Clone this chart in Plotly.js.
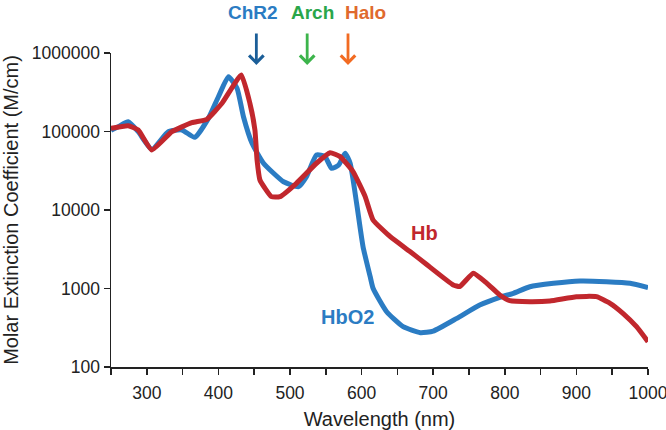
<!DOCTYPE html>
<html>
<head>
<meta charset="utf-8">
<script src="https://cdn.plot.ly/plotly-3.0.1.min.js"></script>
<style>html,body{margin:0;padding:0;background:#fff;}#chart{width:666px;height:430px;}</style>
</head>
<body>
<div id="chart"></div>
<script>
// HbO2 (oxyhemoglobin) molar extinction coefficient
const hbo2Wavelength = [250,260,274,288,307,330,349,367,386,400,414,426,435,447,463,491,512,523,537,549,558,568,577,584,593,602,612,616,635,658,682,700,733,765,793,812,835,868,905,942,975,1000];
const hbo2Values     = [104000,115000,133000,99400,59300,99400,104500,84400,147000,277000,499000,355000,154000,70700,39400,22900,19800,26500,50200,47800,34000,37400,52800,39400,12200,3410,1414,1006,506,326,274,287,417,616,773,869,1054,1164,1246,1221,1164,1024];

// Hb (deoxyhemoglobin) molar extinction coefficient
const hbWavelength = [250,274,288,307,335,363,384,405,432,444,451,454,458,474,486,509,537,556,570,588,605,616,640,668,690,728,737,756,775,793,807,835,863,900,928,947,965,984,1000];
const hbValues     = [110000,118600,104500,58100,99400,129500,143000,228600,524800,228600,104500,43300,24100,14800,14800,21900,39400,53700,47800,30800,14800,7460,4570,2940,2050,1109,1060,1562,1164,827,699,679,693,787,787,648,483,326,210];

// axis ticks
const xTickVals = [250,300,350,400,450,500,550,600,650,700,750,800,850,900,950,1000];
const xTickText = ['','300','','400','','500','','600','','700','','800','','900','','1000'];
const yTickVals = [100,1000,10000,100000,1000000];
const yTickText = ['100','1000','10000','100000','1000000'];

// opsin labels and arrow wavelengths
const opsinNames = ['ChR2','Arch','Halo'];
const opsinLabelX = [449,531,605];
const opsinArrowX = [453,524,581];

const FONT = 'Liberation Sans, Arial, Helvetica, sans-serif';
const BLUE = '#2b7cc3';
const RED = '#c1272d';
const textColors = ['#2b7cc3','#2aa64a','#e06a2e'];
const arrowColors = ['#1b5e98','#3cb44b','#f26b22'];

const traces = [
  {x: hbo2Wavelength, y: hbo2Values, mode: 'lines', name: 'HbO2',
   line: {color: BLUE, width: 5, shape: 'spline', smoothing: 0.5}},
  {x: hbWavelength, y: hbValues, mode: 'lines', name: 'Hb',
   line: {color: RED, width: 5, shape: 'spline', smoothing: 0.4}}
];

const annotations = [];
opsinNames.forEach((n, i) => {
  annotations.push({x: opsinLabelX[i], xref: 'x', y: 1.168, yref: 'paper', text: '<b>' + n + '</b>',
    showarrow: false, xanchor: 'center', yanchor: 'top', font: {family: FONT, size: 19, color: textColors[i]}});
  annotations.push({x: opsinArrowX[i], xref: 'x', y: 0.962, yref: 'paper', text: '',
    showarrow: true, arrowhead: 4, arrowsize: 1, arrowwidth: 2.8, arrowcolor: arrowColors[i], ax: 0, ay: -33, standoff: 0});
});
annotations.push({x: 580, xref: 'x', y: 2.637, yref: 'y', text: '<b>HbO2</b>', showarrow: false,
  xanchor: 'center', yanchor: 'middle', font: {family: FONT, size: 20, color: BLUE}});
annotations.push({x: 688, xref: 'x', y: 3.71, yref: 'y', text: '<b>Hb</b>', showarrow: false,
  xanchor: 'center', yanchor: 'middle', font: {family: FONT, size: 20, color: RED}});

const layout = {
  width: 666, height: 430,
  margin: {l: 111, r: 18, t: 53, b: 63, pad: 0},
  paper_bgcolor: '#fff', plot_bgcolor: '#fff',
  showlegend: false,
  font: {family: FONT, color: '#222'},
  xaxis: {
    range: [250, 1000], tickmode: 'array', tickvals: xTickVals, ticktext: xTickText,
    showline: true, linecolor: '#222', linewidth: 1.5, ticks: 'outside', ticklen: 6, tickwidth: 1.5, tickcolor: '#222',
    showgrid: false, zeroline: false, tickfont: {family: FONT, size: 17.5, color: '#222'},
    ticklabeloverflow: 'allow', ticklabelstandoff: 3,
    title: {text: 'Wavelength (nm)', font: {family: FONT, size: 20, color: '#222'}, standoff: 10}
  },
  yaxis: {
    type: 'log', range: [2, 6], tickmode: 'array', tickvals: yTickVals, ticktext: yTickText,
    showline: true, linecolor: '#222', linewidth: 1.5, ticks: 'outside', ticklen: 6, tickwidth: 1.5, tickcolor: '#222',
    showgrid: false, zeroline: false, tickfont: {family: FONT, size: 17.5, color: '#222'},
    ticklabeloverflow: 'allow',
    title: {text: 'Molar Extinction Coefficient (M/cm)', font: {family: FONT, size: 20, color: '#222'}, standoff: 8}
  },
  annotations: annotations
};

Plotly.newPlot('chart', traces, layout, {displayModeBar: false, staticPlot: true});
</script>
</body>
</html>
